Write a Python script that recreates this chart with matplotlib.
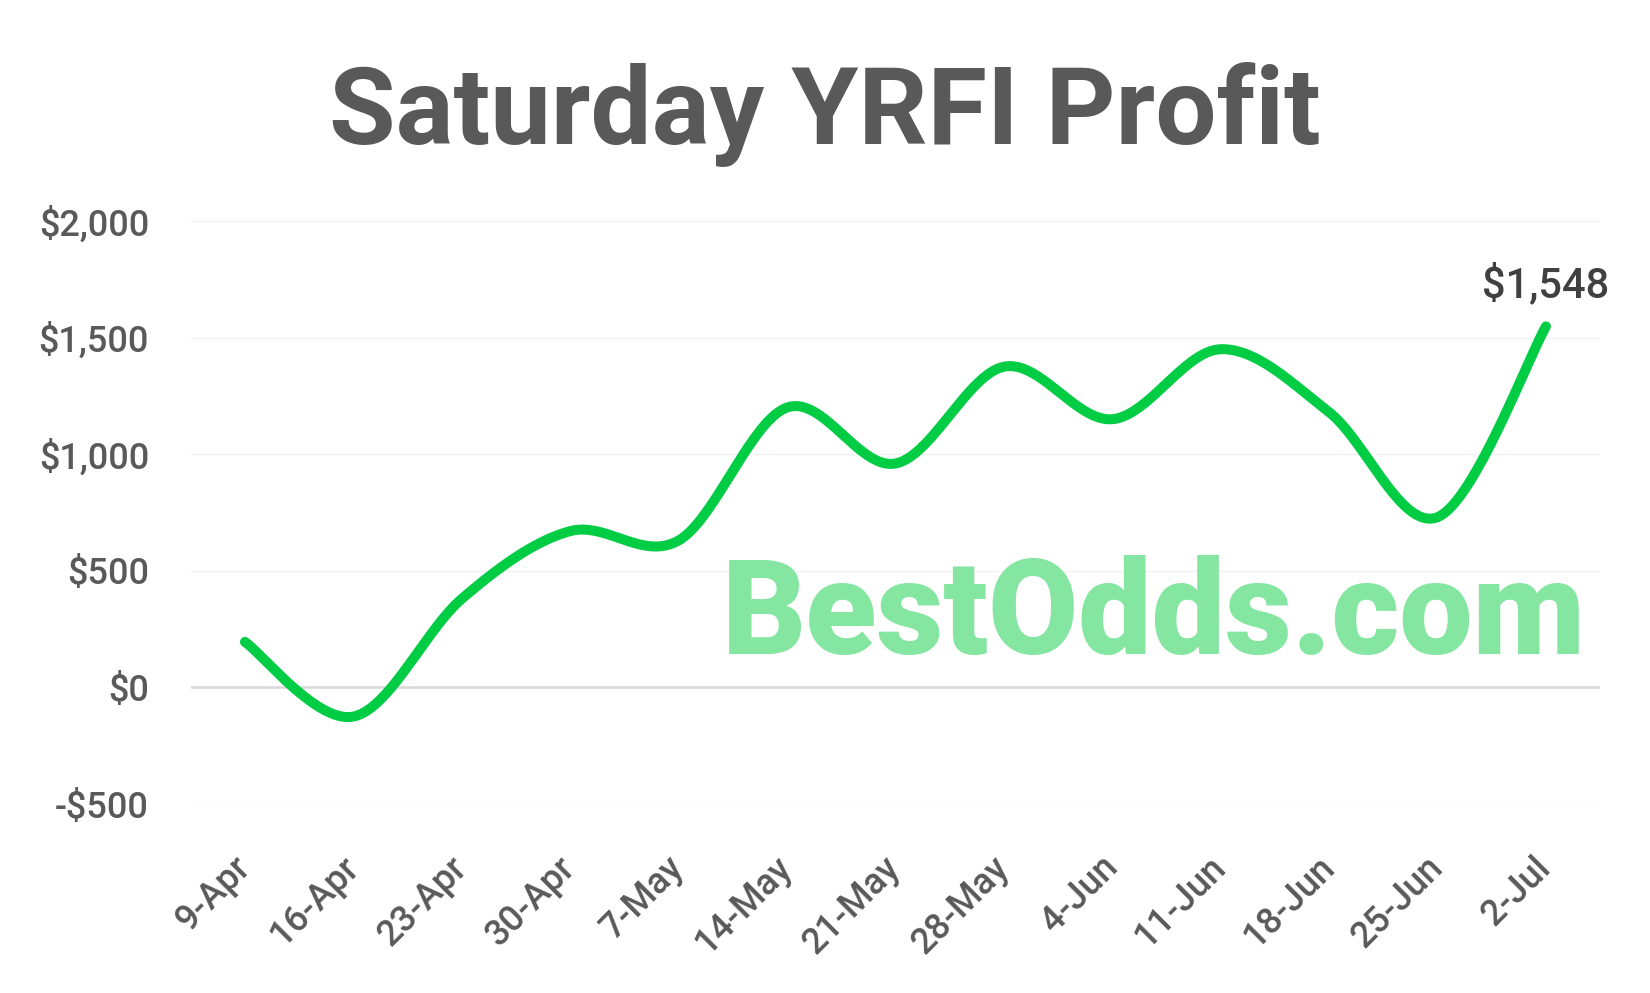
import matplotlib
matplotlib.use('Agg')
import matplotlib.pyplot as plt
import numpy as np
from matplotlib.ticker import FuncFormatter, MultipleLocator

# data
dates = ['9-Apr', '16-Apr', '23-Apr', '30-Apr', '7-May', '14-May', '21-May',
         '28-May', '4-Jun', '11-Jun', '18-Jun', '25-Jun', '2-Jul']
profit = [195, -125, 380, 670, 630, 1200, 960, 1375, 1150, 1450, 1180, 730, 1548]

plt.rcParams['font.family'] = ['Roboto', 'DejaVu Sans']


def smooth(xs, ys, n=40):
    # excel style smoothed line: bezier segments, control points from neighbours
    xs = np.asarray(xs, float)
    ys = np.asarray(ys, float)
    px, py = [], []
    m = len(xs)
    t = np.linspace(0, 1, n)
    for i in range(m - 1):
        i0 = max(i - 1, 0)
        i3 = min(i + 2, m - 1)
        c1x = xs[i] + (xs[i + 1] - xs[i0]) / 6
        c1y = ys[i] + (ys[i + 1] - ys[i0]) / 6
        c2x = xs[i + 1] - (xs[i3] - xs[i]) / 6
        c2y = ys[i + 1] - (ys[i3] - ys[i]) / 6
        bx = (1-t)**3*xs[i] + 3*(1-t)**2*t*c1x + 3*(1-t)*t**2*c2x + t**3*xs[i+1]
        by = (1-t)**3*ys[i] + 3*(1-t)**2*t*c1y + 3*(1-t)*t**2*c2y + t**3*ys[i+1]
        px.extend(bx)
        py.extend(by)
    return np.array(px), np.array(py)


fig = plt.figure(figsize=(16.5, 9.93), dpi=100)
ax = fig.add_axes([0.1156, 0.1903, 0.8542, 0.5872])

x = np.arange(len(dates))
sx, sy = smooth(x, profit)

ax.plot(sx, sy, color='#00CC44', lw=7.2, solid_capstyle='round', zorder=3)

ax.set_xlim(-0.5, len(dates) - 0.5)
ax.set_ylim(-500, 2000)
ax.yaxis.set_major_locator(MultipleLocator(500))
ax.yaxis.set_major_formatter(FuncFormatter(
    lambda v, p: ('-$' if v < 0 else '$') + '{:,.0f}'.format(abs(v))))
ax.set_xticks(x)
ax.set_xticklabels(dates, rotation=45, ha='right', va='center',
                   rotation_mode='anchor')

ax.yaxis.grid(True, color='#F2F2F2', lw=1)
ax.set_axisbelow(True)
ax.axhline(0, color='#D9D9D9', lw=1.8, zorder=1)

for s in ax.spines.values():
    s.set_visible(False)
ax.tick_params(axis='both', length=0, labelsize=26, labelcolor='#595959')
ax.tick_params(axis='y', pad=30)
ax.tick_params(axis='x', pad=42)
for lab in ax.get_xticklabels() + ax.get_yticklabels():
    lab.set_fontweight('medium')

# label on last point
ax.annotate('${:,.0f}'.format(profit[-1]), (x[-1], profit[-1]), xytext=(0, 30),
            textcoords='offset points', ha='center', va='center',
            fontsize=30, fontweight='medium', color='#404040')

fig.text(0.5, 0.855, 'Saturday YRFI Profit', ha='center', va='baseline',
         fontsize=78, fontweight='bold', color='#595959')

# watermark
fig.text(0.4376, 0.341, 'BestOdds.com', ha='left', va='baseline',
         fontsize=94, fontweight='heavy', color='#84E6A0', zorder=0)

plt.savefig('out.png', dpi=100)
